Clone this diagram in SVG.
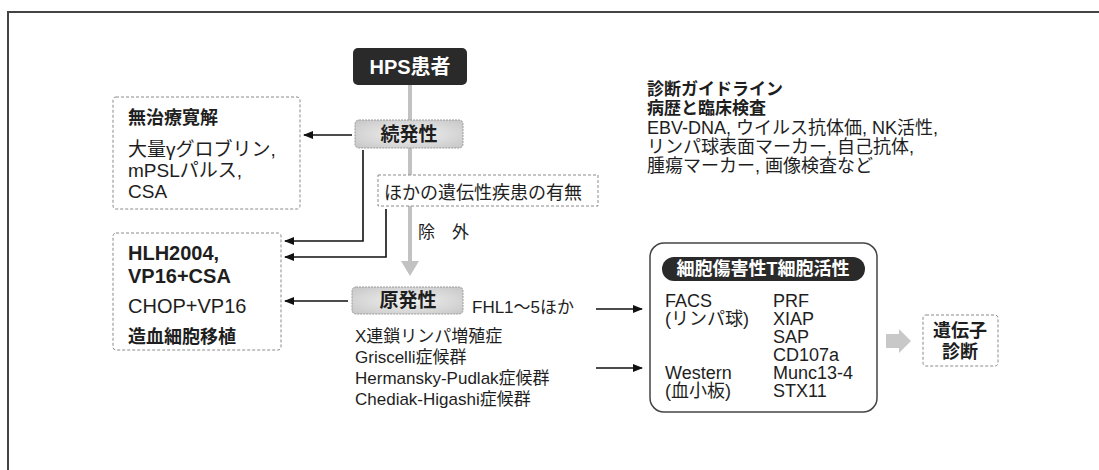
<svg xmlns="http://www.w3.org/2000/svg" width="1099" height="470" viewBox="0 0 1099 470">
<style>
text{font-family:"Liberation Sans","Noto Sans CJK JP",sans-serif;fill:#1e1e1e}
.s17{font-size:17px}
.s18{font-size:18px}
.s19{font-size:19px}
.s20{font-size:20px}
.b{font-weight:bold}
.w{fill:#fff}
.dash{fill:#fff;stroke:#8a8a8a;stroke-width:1;stroke-dasharray:3 2}
.gbox{fill:url(#gg);stroke:#9a9a9a;stroke-width:1;stroke-dasharray:2 1}
.conn{fill:none;stroke:#111;stroke-width:1.6}
</style>
<defs>
<radialGradient id="gg" cx="0.5" cy="0.5" r="0.7">
<stop offset="0" stop-color="#f2f2f2"/>
<stop offset="1" stop-color="#c6c6c6"/>
</radialGradient>
<marker id="ah" markerWidth="10" markerHeight="8" refX="9" refY="4" orient="auto" markerUnits="userSpaceOnUse"><path d="M0,0 L10,4 L0,8 z" fill="#111"/></marker>
</defs>
<rect width="1099" height="470" fill="#fff"/>
<g id="frame"><path d="M8,470 V12 H1099" fill="none" stroke="#444" stroke-width="2"/></g>

<g id="trunk">
<line x1="410" y1="85" x2="410" y2="262" stroke="#c2c2c2" stroke-width="4"/>
<polygon points="401,261 419,261 410,276" fill="#c2c2c2"/>
</g>

<g id="connectors">
<line class="conn" x1="352" y1="135" x2="304" y2="135" marker-end="url(#ah)"/>
<polyline class="conn" points="363,150 363,241 285,241" marker-end="url(#ah)"/>
<polyline class="conn" points="386,209 386,257 285,257" marker-end="url(#ah)"/>
<line class="conn" x1="348" y1="301" x2="285" y2="301" marker-end="url(#ah)"/>
<line class="conn" x1="596" y1="309" x2="642" y2="309" marker-end="url(#ah)"/>
<line class="conn" x1="596" y1="368" x2="642" y2="368" marker-end="url(#ah)"/>
<polygon points="886,334 899,334 899,329 911,341 899,353 899,348 886,348" fill="#c8c8c8"/>
</g>

<g id="hps">
<rect x="353" y="48" width="114" height="37" rx="5" fill="#2a2a2a"/>
<text x="410" y="74" class="s20 b w" text-anchor="middle">HPS患者</text>
</g>

<g id="zokuhatsu">
<rect class="gbox" x="355" y="120" width="108" height="28" rx="4"/>
<text x="409" y="141" class="s19 b" text-anchor="middle">続発性</text>
</g>

<g id="remission">
<rect class="dash" x="113" y="97" width="187" height="112" rx="3"/>
<text x="128" y="124" class="s18 b">無治療寛解</text>
<text x="128" y="156" class="s19">大量γグロブリン,</text>
<text x="128" y="177" class="s19">mPSLパルス,</text>
<text x="128" y="198" class="s19">CSA</text>
</g>

<g id="other">
<rect class="dash" x="378" y="175" width="220" height="31" stroke="#bbb"/>
<text x="384" y="199" class="s18">ほかの遺伝性疾患の有無</text>
</g>

<text id="jogai" x="418" y="238" class="s17" xml:space="preserve">除　外</text>

<g id="hlh">
<rect class="dash" x="113" y="233" width="168" height="117" rx="3"/>
<text x="128" y="260" class="s20 b">HLH2004,</text>
<text x="128" y="283" class="s20 b">VP16+CSA</text>
<text x="128" y="313" class="s20">CHOP+VP16</text>
<text x="128" y="343" class="s18 b">造血細胞移植</text>
</g>

<g id="genpatsu">
<rect class="gbox" x="352" y="287" width="111" height="27" rx="4"/>
<text x="408" y="307" class="s19 b" text-anchor="middle">原発性</text>
<text x="472" y="313" class="s17">FHL1～5ほか</text>
<text x="355" y="342" class="s17">X連鎖リンパ増殖症</text>
<text x="355" y="363" class="s17">Griscelli症候群</text>
<text x="355" y="384" class="s17">Hermansky-Pudlak症候群</text>
<text x="355" y="405" class="s17">Chediak-Higashi症候群</text>
</g>

<g id="guideline">
<text x="647" y="95" class="s17 b">診断ガイドライン</text>
<text x="647" y="114" class="s17 b">病歴と臨床検査</text>
<text x="647" y="134" class="s18">EBV-DNA, ウイルス抗体価, NK活性,</text>
<text x="647" y="153" class="s18">リンパ球表面マーカー, 自己抗体,</text>
<text x="647" y="172" class="s18">腫瘍マーカー, 画像検査など</text>
</g>

<g id="ctl">
<rect x="650" y="243" width="227" height="169" rx="14" fill="#fff" stroke="#444" stroke-width="1.5"/>
<rect x="662" y="257" width="203" height="24" rx="12" fill="#2a2a2a"/>
<text x="763" y="275" class="s18 b w" text-anchor="middle">細胞傷害性T細胞活性</text>
<text x="665" y="307" class="s18">FACS</text>
<text x="665" y="325" class="s18">(リンパ球)</text>
<text x="665" y="379" class="s18">Western</text>
<text x="665" y="397" class="s18">(血小板)</text>
<text x="773" y="307" class="s18">PRF</text>
<text x="773" y="325" class="s18">XIAP</text>
<text x="773" y="343" class="s18">SAP</text>
<text x="773" y="361" class="s18">CD107a</text>
<text x="773" y="379" class="s18">Munc13-4</text>
<text x="773" y="397" class="s18">STX11</text>
</g>

<g id="gene">
<rect class="dash" x="923" y="315" width="75" height="51" rx="3"/>
<text x="960" y="337" class="s18 b" text-anchor="middle">遺伝子</text>
<text x="960" y="358" class="s18 b" text-anchor="middle">診断</text>
</g>
</svg>
